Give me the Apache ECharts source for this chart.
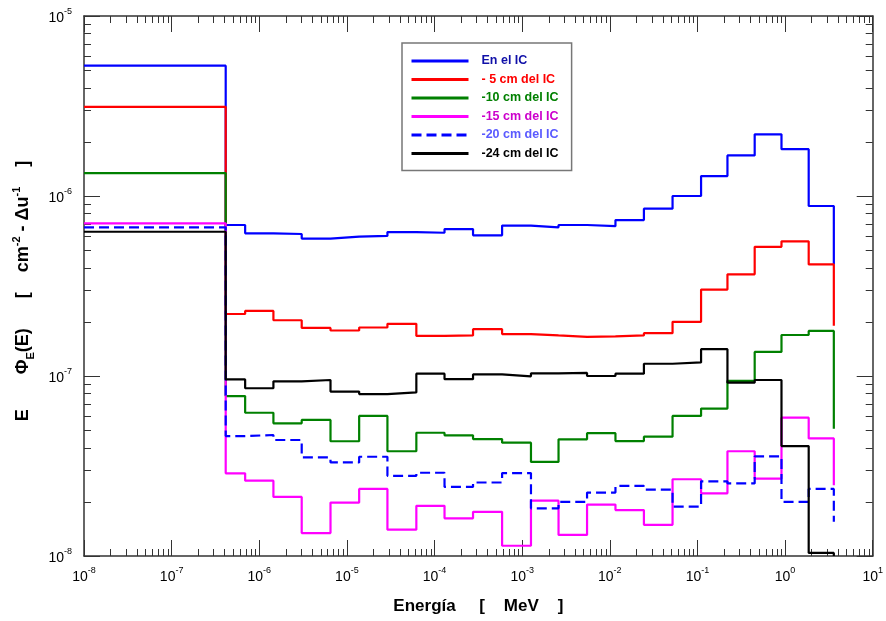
<!DOCTYPE html>
<html>
<head>
<meta charset="utf-8">
<script src="https://cdn.jsdelivr.net/npm/echarts@6/dist/echarts.min.js"></script>
<style>html,body{margin:0;padding:0;background:#fff}#c{width:886px;height:621px}</style>
</head>
<body>
<div id="c"></div>
<script>
// Bin edges (MeV)
const edges = [1e-8, 4.14e-7, 6.9e-7, 1.45e-6, 3.05e-6, 6.5e-6, 1.38e-5, 2.9e-5, 6.2e-5, 1.3e-4, 2.75e-4, 5.9e-4, 1.26e-3, 2.6e-3, 5.5e-3, 1.16e-2, 2.45e-2, 5.2e-2, 0.11, 0.22, 0.45, 0.91, 1.86, 3.6];
const seriesNames = ['En el IC', '- 5 cm del IC', '-10 cm del IC', '-15 cm del IC', '-20 cm del IC', '-24 cm del IC'];
const serIC = [5.3e-6, 6.9e-7, 6.2e-7, 6.15e-7, 5.8e-7, 5.95e-7, 6.0e-7, 6.3e-7, 6.25e-7, 6.55e-7, 6.05e-7, 6.85e-7, 6.7e-7, 6.9e-7, 6.8e-7, 7.35e-7, 8.5e-7, 1.0e-6, 1.29e-6, 1.68e-6, 2.2e-6, 1.82e-6, 8.8e-7];
const ser5 = [3.13e-6, 2.21e-7, 2.30e-7, 2.04e-7, 1.85e-7, 1.79e-7, 1.86e-7, 1.95e-7, 1.67e-7, 1.68e-7, 1.82e-7, 1.71e-7, 1.68e-7, 1.65e-7, 1.66e-7, 1.68e-7, 1.73e-7, 2.0e-7, 3.02e-7, 3.67e-7, 5.22e-7, 5.6e-7, 4.17e-7];
const ser10 = [1.34e-6, 7.74e-8, 6.25e-8, 5.46e-8, 5.7e-8, 4.34e-8, 6.0e-8, 3.82e-8, 4.84e-8, 4.68e-8, 4.46e-8, 4.26e-8, 3.33e-8, 4.45e-8, 4.81e-8, 4.35e-8, 4.6e-8, 6.0e-8, 6.59e-8, 9.4e-8, 1.36e-7, 1.69e-7, 1.78e-7];
const ser15 = [7.05e-7, 2.88e-8, 2.62e-8, 2.13e-8, 1.34e-8, 1.98e-8, 2.36e-8, 1.40e-8, 1.90e-8, 1.62e-8, 1.76e-8, 1.14e-8, 2.03e-8, 1.31e-8, 1.93e-8, 1.80e-8, 1.49e-8, 2.67e-8, 2.23e-8, 3.82e-8, 2.69e-8, 5.87e-8, 4.5e-8];
const ser20 = [6.7e-7, 4.64e-8, 4.7e-8, 4.41e-8, 3.53e-8, 3.31e-8, 3.56e-8, 2.79e-8, 2.90e-8, 2.42e-8, 2.56e-8, 2.89e-8, 1.84e-8, 2.0e-8, 2.25e-8, 2.45e-8, 2.34e-8, 1.88e-8, 2.6e-8, 2.53e-8, 3.58e-8, 2.0e-8, 2.36e-8];
const ser24 = [6.33e-7, 9.57e-8, 8.55e-8, 9.34e-8, 9.5e-8, 8.19e-8, 7.94e-8, 8.1e-8, 1.03e-7, 9.6e-8, 1.02e-7, 9.96e-8, 1.035e-7, 1.04e-7, 1.0e-7, 1.03e-7, 1.17e-7, 1.19e-7, 1.41e-7, 9.18e-8, 9.5e-8, 4.08e-8, 1.04e-8];
// value where each histogram's final vertical drop ends
const endDrop = [4.17e-7, 1.9e-7, 5.1e-8, 2.47e-8, 1.55e-8, 1.0e-8];

const allSeries = [serIC, ser5, ser10, ser15, ser20, ser24];
const colors = ['#0000ff', '#ff0000', '#008000', '#ff00ff', '#0000ff', '#000000'];
const legendTextColors = ['#1010a8', '#ff0000', '#008000', '#cc00cc', '#5a5aff', '#000000'];
const lineTypes = ['solid', 'solid', 'solid', 'solid', [10, 5], 'solid'];

function stepData(vals, drop) {
  const pts = [];
  for (let i = 0; i < vals.length; i++) {
    pts.push([edges[i], vals[i]]);
    pts.push([edges[i + 1], vals[i]]);
  }
  pts.push([edges[edges.length - 1], drop]);
  return pts;
}

const narrow = "'Liberation Sans Narrow','Arial Narrow','Liberation Sans',sans-serif";
const regular = "'Liberation Sans',Arial,sans-serif";
const expFmt = v => {
  const e = Math.round(Math.log10(v));
  return '{b|10}{s|' + e + '}';
};
const labelRich = {
  b: { fontSize: 14, fontFamily: narrow, color: '#000', lineHeight: 18, verticalAlign: 'bottom' },
  s: { fontSize: 9, fontFamily: narrow, color: '#000', lineHeight: 18, verticalAlign: 'top' }
};

const axisLineStyle = { color: '#333', width: 1.5 };
const tickCfg = { show: true, inside: true, length: 16, lineStyle: { color: '#333', width: 1 } };

const option = {
  animation: false,
  backgroundColor: '#fff',
  grid: { left: 84, right: 11, top: 16, bottom: 65, show: false },
  legend: {
    orient: 'vertical',
    left: 402, top: 43,
    padding: [11, 13, 10, 8],
    itemWidth: 57, itemHeight: 14, itemGap: 4.5,
    borderColor: '#777', borderWidth: 1.5,
    backgroundColor: '#fff',
    itemStyle: { opacity: 0 },
    lineStyle: { width: 3 },
    textStyle: { fontSize: 12.5, fontWeight: 'bold', fontFamily: regular, padding: [0, 0, 0, 8], lineHeight: 14 },
    data: seriesNames.map((n, i) => ({ name: n, textStyle: { color: legendTextColors[i] } }))
  },
  xAxis: [{
    type: 'log', logBase: 10, min: 1e-8, max: 10, splitNumber: 9,
    position: 'bottom',
    axisLine: { show: true, lineStyle: axisLineStyle },
    axisTick: tickCfg,
    axisLabel: { margin: 10, formatter: expFmt, rich: labelRich },
    splitLine: { show: false },
    name: 'Energía     [    MeV    ]', nameLocation: 'middle', nameGap: 42,
    nameTextStyle: { fontSize: 17, fontWeight: 'bold', fontFamily: narrow, color: '#000' }
  }, {
    type: 'log', logBase: 10, min: 1e-8, max: 10, splitNumber: 9,
    position: 'top',
    axisLine: { show: true, lineStyle: axisLineStyle },
    axisTick: tickCfg,
    axisLabel: { show: false }, splitLine: { show: false }
  }],
  yAxis: [{
    type: 'log', logBase: 10, min: 1e-8, max: 1e-5, splitNumber: 3,
    position: 'left',
    axisLine: { show: true, lineStyle: axisLineStyle },
    axisTick: tickCfg,
    axisLabel: { margin: 12, formatter: expFmt, rich: labelRich },
    splitLine: { show: false },
    name: 'E       Φ{sub|E}(E)      [    cm{sup|-2} - Δu{sup|-1}    ]',
    nameLocation: 'middle', nameGap: 48, nameRotate: 90,
    nameTextStyle: {
      fontSize: 18, fontWeight: 'bold', fontFamily: regular, color: '#000',
      padding: [0, 10, 0, 0],
      rich: {
        sub: { fontSize: 11, fontWeight: 'bold', fontFamily: regular, verticalAlign: 'bottom', lineHeight: 25 },
        sup: { fontSize: 11, fontWeight: 'bold', fontFamily: regular, verticalAlign: 'top', lineHeight: 25 }
      }
    }
  }, {
    type: 'log', logBase: 10, min: 1e-8, max: 1e-5, splitNumber: 3,
    position: 'right',
    axisLine: { show: true, lineStyle: axisLineStyle },
    axisTick: tickCfg,
    axisLabel: { show: false }, splitLine: { show: false }
  }],
  series: allSeries.map((vals, i) => ({
    name: seriesNames[i],
    type: 'line',
    xAxisIndex: 0, yAxisIndex: 0,
    data: stepData(vals, endDrop[i]),
    symbol: 'none', showSymbol: false,
    lineStyle: { color: colors[i], width: 2.2, type: lineTypes[i] },
    itemStyle: { color: colors[i] },
    clip: true,
    z: 2 + i
  }))
};

const chart = echarts.init(document.getElementById('c'), null, { renderer: 'canvas' });
chart.setOption(option);

// minor ticks (2..9 per decade) on all four sides
const g = [];
const yB = chart.convertToPixel({ yAxisIndex: 0 }, 1e-8);
const yT = chart.convertToPixel({ yAxisIndex: 0 }, 1e-5);
const xL = chart.convertToPixel({ xAxisIndex: 0 }, 1e-8);
const xR = chart.convertToPixel({ xAxisIndex: 0 }, 10);
const tickStyle = { stroke: '#333', lineWidth: 1 };
for (let n = -8; n <= 0; n++) {
  for (let k = 2; k <= 9; k++) {
    const px = Math.round(chart.convertToPixel({ xAxisIndex: 0 }, k * Math.pow(10, n))) + 0.5;
    g.push({ type: 'line', shape: { x1: px, y1: yB, x2: px, y2: yB - 7 }, style: tickStyle, silent: true });
    g.push({ type: 'line', shape: { x1: px, y1: yT, x2: px, y2: yT + 7 }, style: tickStyle, silent: true });
  }
}
for (let n = -8; n <= -6; n++) {
  for (let k = 2; k <= 9; k++) {
    const py = Math.round(chart.convertToPixel({ yAxisIndex: 0 }, k * Math.pow(10, n))) + 0.5;
    g.push({ type: 'line', shape: { x1: xL, y1: py, x2: xL + 7, y2: py }, style: tickStyle, silent: true });
    g.push({ type: 'line', shape: { x1: xR, y1: py, x2: xR - 7, y2: py }, style: tickStyle, silent: true });
  }
}
chart.setOption({ graphic: g });
</script>
</body>
</html>
